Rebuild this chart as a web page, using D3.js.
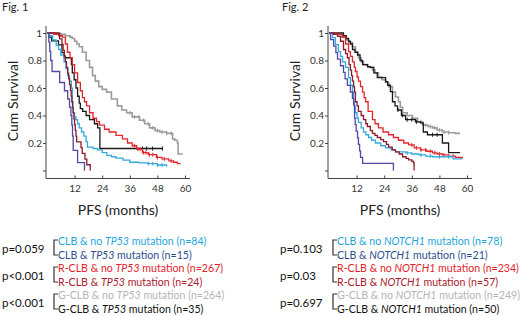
<!DOCTYPE html>
<html><head><meta charset="utf-8">
<script src="https://cdn.jsdelivr.net/npm/d3@7"></script>
<style>body{margin:0;background:#fff} svg{display:block} text{font-family:Lato,"Open Sans",sans-serif}</style>
</head><body>
<svg id="c" width="520" height="316"></svg>
<script>
// ---------- axis data ----------
const yTicks = [0, 0.2, 0.4, 0.6, 0.8, 1];
const yTickLabels = ["", "0.2", "0.4", "0.6", "0.8", "1"];
const xTicks = [12, 24, 36, 48, 60];
const figTitles = ["Fig. 1", "Fig. 2"];
const yTitle = "Cum Survival";
const xTitle = "PFS (months)";

// ---------- Fig 1 series (time in months, survival) ----------
const f1_clbNo_t = [0,1,2.5,4,5,6,7.4,8.2,9,9.8,10.6,11,11.3,12,12.6,13.3,14,15,16,17,17.6,20,22,24,26,28,30,33,36,40,44,48,52];
const f1_clbNo_s = [1,0.98,0.95,0.91,0.88,0.84,0.79,0.74,0.69,0.65,0.6,0.5,0.42,0.39,0.37,0.34,0.31,0.28,0.25,0.21,0.17,0.16,0.15,0.13,0.11,0.1,0.09,0.075,0.06,0.055,0.05,0.04,0.03];
const f1_clbMut_t = [0,0.8,1.2,1.6,2.2,5.5,7.6,9,9.8,10.4,10.8,11.1,11.4,13.3,16.3];
const f1_clbMut_s = [1,0.933,0.867,0.8,0.72,0.64,0.58,0.52,0.46,0.4,0.33,0.25,0.146,0.058,0];
const f1_rNo_t = [0,3,5,6.7,8,8.9,10,11,12,13.3,14.5,15.4,16.3,17.2,18.5,20,21.5,22.8,25,27,30,32.8,35,37,39,41.5,44,47.6,50,53,55,56.7,58];
const f1_rNo_s = [1,0.99,0.98,0.97,0.92,0.86,0.82,0.77,0.71,0.64,0.58,0.53,0.5,0.47,0.42,0.38,0.355,0.33,0.3,0.28,0.255,0.23,0.2,0.18,0.155,0.13,0.115,0.095,0.085,0.07,0.06,0.05,0.05];
const f1_rMut_t = [0,5.5,6.5,7,7.5,8,8.5,9,9.4,9.8,10.2,10.5,10.8,11.1,11.4,11.7,12,12.3,12.6,12.9,14.8,15.3,16.5,17.3,18.8];
const f1_rMut_s = [1,0.958,0.917,0.875,0.833,0.792,0.75,0.708,0.667,0.625,0.583,0.542,0.5,0.458,0.417,0.375,0.333,0.292,0.25,0.208,0.167,0.125,0.083,0.042,0];
const f1_gNo_t = [0,4,6,8,10,11,12,13,14,15.4,17,18.5,19.8,21,22.5,24,25.9,28,30.6,32.5,34.6,37,40.2,42.5,44.6,47,49,52,54.6,55.5,56.7,57,59];
const f1_gNo_s = [1,0.995,0.99,0.98,0.97,0.96,0.94,0.92,0.9,0.86,0.8,0.75,0.69,0.65,0.61,0.59,0.57,0.52,0.47,0.44,0.42,0.39,0.365,0.34,0.31,0.29,0.28,0.27,0.23,0.22,0.2,0.12,0.12];
const f1_gMut_t = [0,1,2,5,6.5,7.5,10.6,11,11.8,12.6,13.3,14,14.5,15.5,17,18.5,20.6,22,23,50.2];
const f1_gMut_s = [1,0.97,0.943,0.914,0.857,0.82,0.77,0.71,0.66,0.6,0.54,0.49,0.45,0.43,0.4,0.37,0.34,0.31,0.16,0.16];
const f1_censor_clbNo = [44,46,48,50];
const f1_censor_rNo = [38,39.5,40.5,42,43,44.5,46,48,51,54];
const f1_censor_gNo = [36,38,40,42,44,46,48,50,52,54];
const f1_censor_gMut = [41.5,43.3,45.9,50.2];

// ---------- Fig 2 series ----------
const f2_clbNo_t = [0,1.5,2.8,4.1,5,5.9,7.2,8.5,9.3,10.2,10.7,11.1,11.5,12.2,12.8,14,15,16,17.2,18.5,20.2,22.5,24.6,27,28.9,33.3,36,39,42,45,49.3,54,58];
const f2_clbNo_s = [1,0.967,0.915,0.865,0.83,0.79,0.75,0.675,0.62,0.57,0.5,0.46,0.42,0.38,0.35,0.31,0.28,0.26,0.24,0.22,0.2,0.18,0.164,0.15,0.135,0.128,0.12,0.113,0.105,0.1,0.1,0.085,0.085];
const f2_clbMut_t = [0,0.7,2,3,3.7,5,6.3,7,8,9.3,10.2,10.7,11.1,11.4,11.8,12.4,12.8,13.3,13.7,14.6,28];
const f2_clbMut_s = [1,0.952,0.905,0.857,0.81,0.762,0.714,0.667,0.619,0.571,0.524,0.476,0.381,0.333,0.286,0.238,0.19,0.143,0.095,0.052,0];
const f2_rNo_t = [0,2,4.1,5.9,7.2,8.5,9.3,10.2,11,11.5,12.2,12.8,13.7,14.6,15.3,15.9,17,18.9,20,21.5,23.5,25.9,28,30.2,32.5,34.6,37,39.8,42.5,45,47,49.3,52,55,58];
const f2_rNo_s = [1,0.995,0.99,0.97,0.92,0.865,0.83,0.79,0.75,0.72,0.68,0.65,0.61,0.57,0.53,0.5,0.43,0.37,0.34,0.31,0.28,0.26,0.24,0.22,0.2,0.186,0.165,0.15,0.14,0.128,0.12,0.113,0.105,0.095,0.09];
const f2_rMut_t = [0,2,3.7,5,6.3,7.2,8,8.7,9.3,9.8,10.2,10.7,11.1,11.5,12.2,12.8,14,15,16,16.7,18,18.9,20,21,22.5,23.7,25,25.9,27.5,28.9,30.5,32,33.5,34.6,36,36.7,37];
const f2_rMut_s = [1,0.99,0.975,0.94,0.88,0.85,0.82,0.77,0.73,0.69,0.65,0.61,0.57,0.5,0.47,0.43,0.4,0.37,0.34,0.32,0.29,0.27,0.255,0.24,0.225,0.21,0.19,0.17,0.15,0.135,0.12,0.1,0.088,0.077,0.066,0.055,0];
const f2_gNo_t = [0,2,4.1,5.5,7.2,8.5,10.2,11.5,12.8,14,15,17,18.9,20,21.5,23,24.6,26,27.6,28.9,30.2,31,32,34,36.3,38.5,40.7,43,45,47,49.3,52,55,57];
const f2_gNo_s = [1,0.995,0.99,0.97,0.95,0.93,0.9,0.86,0.82,0.79,0.77,0.75,0.73,0.71,0.68,0.66,0.64,0.61,0.57,0.535,0.5,0.46,0.42,0.4,0.38,0.355,0.33,0.32,0.31,0.295,0.28,0.275,0.27,0.27];
const f2_gMut_t = [0,6.3,7.5,8.5,9.3,10.2,11.3,12.4,13.5,14.6,16.7,18,19.5,21,24.6,25.5,26.7,27.6,28.7,29.8,31.5,33.3,37.6,39.8,41,42.8,49.3,52,57];
const f2_gMut_s = [1,0.98,0.96,0.94,0.92,0.88,0.86,0.84,0.8,0.77,0.755,0.75,0.71,0.675,0.646,0.62,0.573,0.5,0.47,0.44,0.4,0.37,0.354,0.347,0.28,0.26,0.2,0.13,0.13];
const f2_censor_clbNo = [34,40,44,48,52];
const f2_censor_rNo = [36,38,40,42,44,46,48,50,52,54];
const f2_censor_gNo = [40,42,44,46,48,50,52];
const f2_censor_gMut = [30,32,34,36,38,45,47];

// ---------- legends ----------
const f1_legendPre = ["CLB & no ", "CLB & ", "R-CLB & no ", "R-CLB & ", "G-CLB & no ", "G-CLB & "];
const f1_legendGene = "TP53";
const f1_legendPost = [" mutation (n=84)", " mutation (n=15)", " mutation (n=267)", " mutation (n=24)", " mutation (n=264)", " mutation (n=35)"];
const f1_pvals = ["p=0.059", "p<0.001", "p<0.001"];
const f2_legendPre = ["CLB & no ", "CLB & ", "R-CLB & no ", "R-CLB & ", "G-CLB & no ", "G-CLB & "];
const f2_legendGene = "NOTCH1";
const f2_legendPost = [" mutation (n=78)", " mutation (n=21)", " mutation (n=234)", " mutation (n=57)", " mutation (n=249)", " mutation (n=50)"];
const f2_pvals = ["p=0.103", "p=0.03", "p=0.697"];

// ---------- styles ----------
const lineColors = ["#35a9dc", "#4e4aa6", "#e3262b", "#8c1a2b", "#9c9c9c", "#1a1a1a"];
const lineWidths = [1.3, 1.3, 1.3, 1.3, 1.6, 1.3];
const textColors = ["#1fa5dc", "#2e4f8c", "#e2232a", "#ad1a2e", "#b5b5b5", "#111111"];

const svg = d3.select("#c");

function drawPanel(p) {
  const g = svg.append("g");
  const x = d3.scaleLinear().domain([0, 60]).range([p.x0, p.x0 + 138]);
  const y = d3.scaleLinear().domain([0, 1]).range([170.5, 33]);
  const axisY = 178.5;
  const axisColor = "#444";

  g.append("text").attr("x", p.titleX).attr("y", 11).attr("font-size", 11).attr("fill", "#222").text(p.title);

  g.append("line").attr("x1", p.x0 - 1).attr("x2", p.x0 - 1).attr("y1", 26).attr("y2", axisY)
    .attr("stroke", axisColor).attr("stroke-width", 1);
  const ya = g.append("g").attr("transform", `translate(${p.x0 - 1},0)`)
    .call(d3.axisLeft(y).tickValues(yTicks).tickSize(3).tickPadding(1)
      .tickFormat((d, i) => yTickLabels[i]));
  ya.select(".domain").remove();
  ya.selectAll("line").attr("stroke", axisColor);
  ya.selectAll("text").attr("font-size", 10).attr("fill", "#333").attr("font-family", "Lato");

  g.append("line").attr("x1", p.x0 - 1).attr("x2", p.x0 + 143).attr("y1", axisY).attr("y2", axisY)
    .attr("stroke", axisColor).attr("stroke-width", 1);
  const xa = g.append("g").attr("transform", `translate(0,${axisY})`)
    .call(d3.axisBottom(x).tickValues(xTicks).tickSize(-3).tickPadding(6).tickFormat(d3.format("d")));
  xa.select(".domain").remove();
  xa.selectAll("line").attr("stroke", axisColor);
  xa.selectAll("text").attr("font-size", 10).attr("fill", "#333").attr("font-family", "Lato");

  g.append("text").attr("transform", `translate(${p.x0 - 29},101) rotate(-90)`)
    .attr("text-anchor", "middle").attr("font-size", 14).attr("fill", "#222").text(yTitle);
  g.append("text").attr("x", p.x0 + 71).attr("y", 215).attr("text-anchor", "middle")
    .attr("font-size", 14).attr("fill", "#222").text(xTitle);

  const line = d3.line().x(d => x(d[0])).y(d => y(d[1])).curve(d3.curveStepAfter);
  const order = [4, 5, 2, 0, 3, 1];
  order.forEach(i => {
    const s = p.series[i];
    const pts = s.t.map((t, k) => [t, s.s[k]]);
    g.append("path").attr("d", line(pts)).attr("fill", "none")
      .attr("stroke", lineColors[i]).attr("stroke-width", lineWidths[i]);
    (s.c || []).forEach(ct => {
      const k = d3.bisectRight(s.t, ct) - 1;
      const yy = y(s.s[k]);
      g.append("line").attr("x1", x(ct)).attr("x2", x(ct)).attr("y1", yy - 2).attr("y2", yy + 2)
        .attr("stroke", lineColors[i]).attr("stroke-width", 1);
    });
  });

  const rowY = [245, 258.5, 272, 285.5, 299, 312.5];
  p.pre.forEach((pre, i) => {
    const t = g.append("text").attr("x", p.legX).attr("y", rowY[i]).attr("font-size", 10.6)
      .attr("fill", textColors[i]);
    t.append("tspan").text(pre);
    t.append("tspan").attr("font-style", "italic").text(p.gene);
    t.append("tspan").text(p.post[i]);
  });
  p.pvals.forEach((pv, j) => {
    const top = rowY[2 * j] - 5, bot = rowY[2 * j + 1] - 3.5;
    g.append("text").attr("x", p.pX).attr("y", (top + bot) / 2 + 5).attr("font-size", 11.5)
      .attr("fill", "#111").text(pv);
    const bx = p.legX - 4;
    g.append("path").attr("d", `M${bx + 4},${top} L${bx},${top} L${bx},${bot} L${bx + 4},${bot}`)
      .attr("fill", "none").attr("stroke", "#333").attr("stroke-width", 1.2);
  });
}

drawPanel({
  title: figTitles[0], titleX: 2, x0: 47, legX: 58, pX: 2,
  gene: f1_legendGene, pre: f1_legendPre, post: f1_legendPost, pvals: f1_pvals,
  series: [
    {t: f1_clbNo_t, s: f1_clbNo_s, c: f1_censor_clbNo},
    {t: f1_clbMut_t, s: f1_clbMut_s},
    {t: f1_rNo_t, s: f1_rNo_s, c: f1_censor_rNo},
    {t: f1_rMut_t, s: f1_rMut_s},
    {t: f1_gNo_t, s: f1_gNo_s, c: f1_censor_gNo},
    {t: f1_gMut_t, s: f1_gMut_s, c: f1_censor_gMut}
  ]
});
drawPanel({
  title: figTitles[1], titleX: 282, x0: 329, legX: 337, pX: 280,
  gene: f2_legendGene, pre: f2_legendPre, post: f2_legendPost, pvals: f2_pvals,
  series: [
    {t: f2_clbNo_t, s: f2_clbNo_s, c: f2_censor_clbNo},
    {t: f2_clbMut_t, s: f2_clbMut_s},
    {t: f2_rNo_t, s: f2_rNo_s, c: f2_censor_rNo},
    {t: f2_rMut_t, s: f2_rMut_s},
    {t: f2_gNo_t, s: f2_gNo_s, c: f2_censor_gNo},
    {t: f2_gMut_t, s: f2_gMut_s, c: f2_censor_gMut}
  ]
});
</script>
</body></html>
